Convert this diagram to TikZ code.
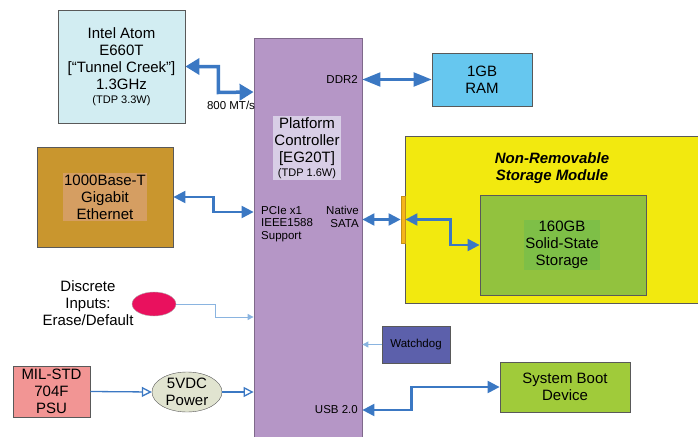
\documentclass[tikz,border=0pt]{standalone}
\usepackage{fontspec}
\setmainfont{Liberation Sans}
\usetikzlibrary{arrows.meta,shapes.geometric}

\definecolor{pchfill}{HTML}{B596C6}
\definecolor{pchlabel}{HTML}{D8CEE6}
\definecolor{atomfill}{HTML}{D2EDF2}
\definecolor{ramfill}{HTML}{66C7EF}
\definecolor{ethfill}{HTML}{C9962E}
\definecolor{ethlabel}{HTML}{D59E62}
\definecolor{modfill}{HTML}{F2E90F}
\definecolor{ssdfill}{HTML}{92C23E}
\definecolor{ssdlabel}{HTML}{7EBF47}
\definecolor{portfill}{HTML}{F5B41B}
\definecolor{wdogfill}{HTML}{5C60AB}
\definecolor{bootfill}{HTML}{A0CB3A}
\definecolor{psufill}{HTML}{F29594}
\definecolor{powerfill}{HTML}{E1E4D0}
\definecolor{inputfill}{HTML}{E9115E}
\definecolor{linkblue}{HTML}{3B78C3}
\definecolor{thinblue}{HTML}{8AB4E0}

\begin{document}
\begin{tikzpicture}[
    x=1pt, y=-1pt,
    block/.style={rectangle, draw=gray!70!black, line width=0.8pt, align=center, inner sep=0pt, font=\fontsize{15}{17}\selectfont},
    inlabel/.style={rectangle, align=center, inner sep=1.5pt, font=\fontsize{15}{17}\selectfont},
    port/.style={font=\fontsize{11.5}{12.5}\selectfont, inner sep=0pt},
    bigarrow/.style={{Triangle[length=14pt,width=16pt]}-{Triangle[length=14pt,width=16pt]}, linkblue, line width=3.5pt},
    arrow/.style={{Triangle[length=12pt,width=12pt]}-{Triangle[length=12pt,width=12pt]}, linkblue, line width=2.2pt},
    thinarrow/.style={-{Triangle[length=6pt,width=6pt]}, thinblue, line width=1pt},
    openarrow/.style={-{Triangle[open,length=10pt,width=10pt]}, linkblue, line width=1.3pt}
]
\useasboundingbox (0,0) rectangle (698,436);

% Platform Controller
\node[block, fill=pchfill, draw=pchfill!70!black, minimum width=108pt, minimum height=402pt] (pch) at (308,239) {};
\node[inlabel, fill=pchlabel] (pchname) at (307,148) {Platform\\Controller\\{[EG20T]}\\[-3pt]{\fontsize{11}{12}\selectfont (TDP 1.6W)}};
\node[port, anchor=east] (ddrlbl) at (358,79) {DDR2};
\node[port, anchor=north west, align=left] (pcielbl) at (261,206) {PCIe x1\\IEEE1588\\Support};
\node[port, anchor=north east, align=right] (satalbl) at (359,206) {Native\\SATA};
\node[port, anchor=east] (usblbl) at (358,410) {USB 2.0};

% CPU und Speicher
\node[block, fill=atomfill, minimum width=127pt, minimum height=113pt] (atom) at (121.5,66.5) {Intel Atom\\E660T\\{[``Tunnel Creek'']}\\1.3GHz\\[-3pt]{\fontsize{11}{12}\selectfont (TDP 3.3W)}};
\node[port] (mtlbl) at (231,105) {800 MT/s};
\node[block, fill=ramfill, minimum width=100pt, minimum height=53pt] (ram) at (482,79.5) {1GB\\RAM};

% Ethernet
\node[block, fill=ethfill, minimum width=136pt, minimum height=100pt] (eth) at (105,197) {};
\node[inlabel, fill=ethlabel] (ethname) at (105,197) {1000Base-T\\Gigabit\\Ethernet};

% Storage Module
\node[block, fill=modfill, minimum width=297pt, minimum height=167pt] (module) at (553.5,219.5) {};
\node[font=\fontsize{15}{17}\selectfont\bfseries\itshape, align=center] (modname) at (552,168) {Non-Removable\\Storage Module};
\node[block, fill=portfill, draw=portfill!80!black, minimum width=4pt, minimum height=47pt] (sataport) at (403,219.5) {};
\node[block, fill=ssdfill, minimum width=166pt, minimum height=100pt] (ssd) at (563,245) {};
\node[inlabel, fill=ssdlabel] (ssdname) at (562,245) {160GB\\Solid-State\\Storage};

% Eingaenge links
\node[font=\fontsize{15}{17}\selectfont, align=center] (discrete) at (88,303) {Discrete\\Inputs:\\Erase/Default};
\node[ellipse, draw=gray!60, fill=inputfill, minimum width=44pt, minimum height=24pt, inner sep=0pt] (inputs) at (154,304) {};
\node[block, fill=psufill, minimum width=77pt, minimum height=51pt] (psu) at (51.5,391.5) {MIL-STD\\704F\\PSU};
\node[ellipse, draw=gray!70!black, fill=powerfill, minimum width=70pt, minimum height=40pt, inner sep=0pt, align=center, font=\fontsize{15}{17}\selectfont] (power) at (187,392) {5VDC\\Power};

% rechts unten
\node[block, fill=wdogfill, minimum width=68pt, minimum height=37pt, font=\fontsize{11.5}{13}\selectfont] (wdog) at (416,344.5) {Watchdog};
\node[block, fill=bootfill, minimum width=130pt, minimum height=50pt] (boot) at (565,387) {System Boot\\Device};

% Verbindungen
\draw[bigarrow] (atom.east) -- ++(33,0) -- ++(0,26) -- (pch.west |- 0,92);
\draw[arrow, {Triangle[length=18pt,width=14pt]}-{Triangle[length=18pt,width=14pt]}] (pch.east |- ram.west) -- (ram.west);
\draw[arrow] (eth.east) -- ++(40,0) |- (pch.west |- 0,212);
\draw[arrow] (pch.east |- sataport.west) -- (sataport.west);
\draw[arrow] (sataport.east) -- ++(45,0) |- (ssd.west);
\draw[thinarrow] (inputs.east) -- ++(39,0) |- (pch.west |- 0,317);
\draw[thinarrow] (wdog.west) -- (pch.east |- wdog.west);
\draw[arrow] (pch.east |- 0,410) -- ++(49,0) |- (boot.west);
\draw[openarrow] (psu.east) -- (power.west);
\draw[openarrow] (power.east) -- (pch.west |- power.east);

\end{tikzpicture}
\end{document}
